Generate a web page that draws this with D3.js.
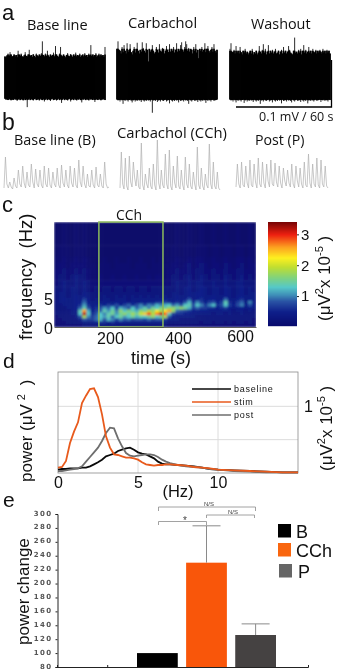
<!DOCTYPE html>
<html>
<head>
<meta charset="utf-8">
<script src="https://cdn.jsdelivr.net/npm/d3@7"></script>
<style>
    html, body { margin: 0; padding: 0; background: #fff; }
    svg { display: block; filter: blur(0.35px); }
    text { fill: #111; font-family: "Liberation Sans", sans-serif; }
    .soft { font-family: "Open Sans", sans-serif; }
</style>
</head>
<body>
<script>
// a: raw trace envelopes, microvolts, one value per sample
const rawBaseTop = [46,44,48,52,47,55,50,45,47,50,46,49,44,58,50,47,52,46,45,48,55,47,46,50,60,47,49,45,51,47,44,52,48,46,50,47,53,78,49,46,52,47,58,48,45,50,47,49,54,46,68,50,47,45,52,66,48,46,50,47,44,49,53,47,46,51,48,45,50,47,54,46,49,47,52,45,48,50,46,53,47,49,45,52,48,70,47,50,46,49,53,45,48,52,46,50,47,49,45,66];
const rawBaseLow = [-44,-46,-45,-47,-44,-46,-48,-45,-47,-44,-46,-45,-49,-46,-44,-47,-45,-46,-48,-44,-47,-45,-62,-46,-44,-47,-45,-46,-48,-45,-44,-47,-46,-45,-48,-44,-46,-47,-45,-50,-46,-44,-47,-45,-46,-49,-45,-44,-47,-46,-45,-48,-46,-44,-47,-45,-53,-46,-44,-47,-45,-46,-48,-45,-44,-50,-46,-45,-47,-44,-46,-48,-45,-46,-44,-47,-52,-45,-46,-44,-47,-45,-46,-48,-44,-46,-45,-47,-44,-51,-46,-45,-47,-44,-46,-48,-45,-46,-44,-47];
const rawCchTop = [62,78,60,58,52,66,55,70,58,52,74,56,60,72,55,50,58,66,54,62,75,58,52,60,56,76,64,58,54,74,60,35,62,56,60,70,58,52,55,66,60,54,72,58,56,64,62,52,58,68,60,55,72,56,62,58,66,54,60,74,56,62,58,70,76,60,56,66,78,72,58,64,56,62,60,52,66,58,72,54,60,42,62,58,66,56,60,74,55,62,68,58,54,60,66,56,72,58,54,60];
const rawCchLow = [-46,-48,-47,-50,-46,-48,-55,-47,-49,-46,-48,-50,-47,-46,-49,-52,-48,-46,-50,-47,-49,-46,-48,-47,-51,-46,-48,-50,-47,-49,-46,-48,-47,-50,-46,-74,-48,-47,-49,-46,-51,-48,-47,-50,-46,-48,-49,-47,-46,-50,-48,-47,-54,-46,-48,-50,-47,-49,-46,-48,-47,-52,-46,-49,-48,-47,-50,-46,-48,-47,-49,-55,-46,-48,-50,-47,-46,-49,-48,-47,-51,-46,-48,-50,-47,-49,-46,-48,-53,-47,-49,-46,-48,-50,-47,-46,-49,-48,-47,-46];
const rawWashTop = [62,74,56,55,60,52,68,54,58,52,66,55,50,58,54,62,52,56,50,54,58,52,62,50,55,52,58,50,54,68,56,52,60,72,54,62,50,56,70,52,58,54,60,52,56,62,52,54,58,50,56,60,52,66,54,58,52,56,68,60,54,52,50,58,86,54,56,52,60,54,62,50,58,70,54,60,52,56,66,54,58,52,62,56,54,60,52,58,54,60,56,52,62,54,58,52,60,54,58,52];
const rawWashLow = [-46,-48,-47,-50,-46,-48,-52,-47,-49,-46,-48,-50,-47,-46,-53,-48,-46,-50,-47,-49,-46,-48,-47,-51,-46,-48,-50,-47,-49,-46,-55,-48,-47,-50,-46,-48,-49,-47,-46,-50,-48,-47,-52,-46,-48,-50,-47,-49,-46,-48,-47,-54,-46,-49,-48,-47,-50,-46,-48,-47,-49,-52,-46,-48,-50,-47,-46,-49,-48,-47,-51,-46,-48,-50,-47,-49,-46,-54,-48,-47,-49,-46,-48,-50,-47,-46,-49,-48,-47,-46,-51,-47,-48,-46,-49,-47,-48,-50,-46,-47];

// b: filtered traces, arbitrary units
const lfpBase = [2,33,6,2,8,3,1,12,4,2,20,6,3,24,7,2,18,5,3,26,8,2,21,6,3,20,5,2,24,6,3,22,5,2,18,6,3,22,5,2,25,7,3,20,5,2,24,7,3,22,5,2,30,8,3,24,6,2,16,4,3,20,5,2,23,5,3,16,4,2,28,6,2,3];
const lfpCch = [4,40,8,3,34,6,2,36,10,5,30,14,6,22,5,3,49,7,2,18,8,4,24,6,3,28,7,2,52,9,3,22,7,4,38,8,3,42,6,2,26,9,4,36,6,3,22,7,2,35,8,4,28,6,3,20,8,2,45,7,3,24,6,2,18,7,4,48,8,3,30,6,3,20,4,2];
const lfpPost = [3,26,6,2,28,5,3,24,7,2,30,5,3,26,8,2,32,6,3,28,7,2,26,9,3,30,6,4,27,8,3,24,7,2,22,9,4,20,7,3,26,6,2,24,9,3,22,6,2,28,5,3,36,7,2,26,6,3,32,5,2,30,6,3,24,4,2];

// c: spectrogram power in tenths of 10^-5, top row first, 50 time bins per row
const specEdges = [18,14,12,11,10,9,8,7,6,5.5,5,4.5,4,3.5,3,2.5,2,1.5,1,0.5,0];
const specPower = [
    [0,0,1,0,0,1,0,1,0,0,0,0,0,0,0,0,0,0,0,0,0,0,0,0,0,0,0,0,0,0,1,0,0,1,0,0,1,0,0,1,0,0,1,0,0,1,0,0,1,0],
    [0,1,1,1,0,1,1,1,0,0,0,0,0,0,0,0,0,0,0,0,0,0,0,0,0,0,0,0,0,1,1,0,1,1,0,1,1,1,0,1,1,0,1,1,0,1,1,0,1,1],
    [1,1,2,1,1,2,1,2,1,0,0,0,1,0,0,1,0,0,1,0,0,1,0,0,1,0,1,0,1,1,2,1,1,2,1,2,2,1,1,2,1,1,2,1,1,2,2,1,2,1],
    [1,2,2,1,2,2,2,2,1,1,0,1,1,1,0,1,1,1,1,0,1,1,1,0,1,1,1,1,1,2,2,1,2,3,1,2,3,2,1,2,2,1,3,2,1,2,3,1,2,2],
    [2,2,3,2,2,3,2,3,2,1,1,1,1,1,1,1,1,1,1,1,1,1,1,1,1,1,1,1,2,2,3,2,2,3,2,3,3,2,2,3,2,2,3,2,2,3,3,2,2,2],
    [2,3,3,2,3,4,3,3,2,1,1,2,1,1,2,1,1,2,1,1,2,1,1,2,1,2,2,1,2,3,3,2,3,4,2,3,4,3,2,3,3,2,4,3,2,3,4,2,3,2],
    [2,3,4,3,3,4,3,4,3,2,2,2,2,2,2,2,2,2,2,2,2,2,2,2,2,2,2,2,2,3,4,3,3,4,3,4,4,3,3,4,3,3,4,3,3,4,4,3,3,3],
    [3,3,4,3,4,4,3,4,3,2,3,2,3,3,2,3,3,2,3,3,2,3,3,2,3,3,3,3,3,3,4,3,4,5,3,4,5,4,3,4,4,3,5,4,3,4,5,3,4,3],
    [3,4,4,3,4,4,3,5,4,3,3,3,3,3,3,3,3,3,3,3,3,3,3,3,3,3,3,3,3,4,4,3,4,5,4,5,5,4,3,4,4,3,5,4,3,4,5,3,4,4],
    [3,4,4,3,4,5,4,5,4,3,3,3,4,3,3,4,3,4,3,4,3,4,3,4,3,4,3,4,3,4,5,4,4,5,4,5,5,4,4,5,4,4,5,4,3,5,5,4,4,4],
    [3,4,5,4,4,5,4,7,5,3,4,3,4,4,3,4,4,4,3,4,4,4,4,4,4,4,4,5,4,4,5,4,5,8,4,5,6,4,5,5,4,4,9,4,4,5,6,4,5,4],
    [3,4,4,4,4,5,5,9,5,4,4,4,5,4,4,5,4,5,4,5,4,5,5,5,5,6,6,7,6,5,6,5,8,12,6,10,7,5,7,8,5,7,14,6,4,7,9,4,10,4],
    [3,3,4,4,4,5,6,11,6,4,5,6,5,7,6,8,5,7,9,6,8,10,7,10,9,12,10,12,13,9,11,8,13,14,8,13,10,7,10,13,6,8,13,7,5,8,10,5,8,5],
    [3,3,3,4,4,5,9,14,8,5,6,8,11,9,13,7,12,10,8,13,9,11,14,10,15,13,16,15,17,17,15,17,15,12,7,9,7,7,6,6,5,6,7,5,4,5,5,4,5,4],
    [3,3,3,3,4,5,14,26,12,5,7,9,14,11,15,10,17,13,16,14,12,17,15,19,17,22,18,23,26,17,9,8,7,6,5,5,5,5,4,4,4,4,4,4,3,4,4,3,4,3],
    [3,3,3,3,4,4,13,32,13,6,8,13,10,14,15,11,15,17,14,18,15,20,24,29,19,27,32,28,14,7,6,6,5,5,4,4,4,4,4,3,4,4,3,4,3,3,4,3,3,3],
    [2,3,3,3,3,4,8,18,10,7,9,13,11,14,9,13,15,11,13,15,12,14,13,15,17,13,15,18,8,5,4,4,4,4,4,3,3,3,3,3,3,3,3,3,3,3,3,3,3,3],
    [2,2,3,3,3,3,5,8,7,7,9,12,8,12,10,7,10,8,9,7,8,8,7,9,7,8,8,6,4,4,4,3,3,3,3,3,3,3,3,3,3,3,3,3,3,3,3,3,3,2],
    [2,2,2,3,3,3,3,4,4,4,5,6,6,5,6,5,5,5,4,4,4,4,4,4,4,4,4,4,3,3,3,3,3,3,3,3,2,3,3,2,3,3,2,3,2,3,3,2,3,2],
    [1,2,2,2,2,2,2,3,3,3,3,3,3,3,3,3,3,3,3,3,3,3,3,3,3,3,3,3,2,2,2,2,2,2,2,2,2,2,2,2,2,2,2,2,2,2,2,2,2,2]
];
const specColorStops = [0, 0.5, 0.85, 1.05, 1.3, 1.6, 1.95, 2.25, 2.6, 3.0, 3.4];
const specColors = ["#08086a","#0e1f8a","#2a55a5","#3f8fb8","#55c8c8","#7fd27f","#c0de30","#fdf020","#fca020","#ee2010","#7a0505"];
const timeTicks = [200, 400, 600];
const freqTicks = [0, 5];
const cchWindow = [166, 363];
const colorTicks = [1, 2, 3];

// d: power spectra (x 10^-5) on a shared frequency axis
const specHz = [0,0.25,0.5,0.75,1,1.25,1.5,1.75,2,2.25,2.5,2.75,3,3.25,3.5,3.75,4,4.25,4.5,4.75,5,5.25,5.5,5.75,6,6.25,6.5,6.75,7,7.5,8,8.5,9,9.5,10,11,12,13,14,15];
const baselinePower = [0.05,0.06,0.06,0.07,0.07,0.07,0.08,0.08,0.10,0.13,0.16,0.20,0.25,0.27,0.29,0.33,0.35,0.37,0.38,0.35,0.31,0.29,0.28,0.25,0.22,0.17,0.14,0.13,0.13,0.12,0.11,0.10,0.08,0.06,0.05,0.04,0.03,0.02,0.01,0.01];
const stimPower = [0.08,0.09,0.18,0.45,0.62,0.76,1.05,1.16,1.26,1.27,1.14,0.88,0.55,0.38,0.28,0.27,0.25,0.23,0.23,0.22,0.20,0.16,0.13,0.12,0.11,0.12,0.12,0.13,0.13,0.12,0.11,0.09,0.08,0.07,0.05,0.04,0.03,0.02,0.01,0.01];
const postPower = [0.03,0.03,0.04,0.05,0.06,0.07,0.10,0.17,0.24,0.31,0.38,0.48,0.60,0.68,0.67,0.52,0.40,0.30,0.26,0.25,0.26,0.27,0.28,0.28,0.27,0.24,0.20,0.17,0.15,0.12,0.10,0.09,0.08,0.06,0.05,0.03,0.02,0.01,0.01,0.01];
const spectrumNames = ["baseline", "stim", "post"];
const spectrumColors = ["#0a0a0a", "#e85a1c", "#6e6e6e"];

// e: bars
const barCategories = ["B", "CCh", "P"];
const barValues = [100, 230, 126];
const barErrors = [0, 53, 16];
const barColors = ["#000000", "#f9560a", "#454242"];
const legendColors = ["#000000", "#f9660f", "#666666"];
const powerTicks = d3.range(80, 301, 20);

const svg = d3.select("body").append("svg").attr("width", 350).attr("height", 670);

var addText = function(x, y, str, size, opts){
    opts = opts || {};
    var t = svg.append("text")
        .attr("x", x)
        .attr("y", y)
        .style("font-size", size + "px")
        .attr("text-anchor", opts.anchor || "start")
        .text(str);
    if (opts.soft) t.classed("soft", true);
    if (opts.rotate) t.attr("transform", "rotate(-90," + x + "," + y + ")");
    if (opts.spacing) t.style("letter-spacing", opts.spacing + "px");
    return t;
}

var createRawTrace = function(x0, x1, top, low, bulk){
    var x = d3.scaleLinear().domain([0, top.length - 1]).range([x0, x1]);
    var y = d3.scaleLinear().domain([-100, 100]).range([125, 31]);
    // thin spikes first, the solid band over them
    svg.append("g").selectAll("line")
        .data(top)
        .join("line")
        .attr("x1", (d, i) => x(i))
        .attr("x2", (d, i) => x(i))
        .attr("y1", d => y(d))
        .attr("y2", (d, i) => y(low[i]))
        .attr("stroke", "#2a2a2a")
        .attr("stroke-width", 1);
    svg.append("g").selectAll("line")
        .data(top)
        .join("line")
        .attr("x1", (d, i) => x(i))
        .attr("x2", (d, i) => x(i))
        .attr("y1", d => y(Math.min(d, bulk)))
        .attr("y2", (d, i) => y(Math.max(low[i], -47)))
        .attr("stroke", "#000")
        .attr("stroke-width", 1.7);
}

var createPanelA = function(){
    addText(2, 20, "a", 22);
    addText(27, 30, "Base line", 14.5, {soft: true});
    addText(128, 28, "Carbachol", 14.7, {soft: true});
    addText(251, 29, "Washout", 14.4, {soft: true});
    createRawTrace(5, 105, rawBaseTop, rawBaseLow, 50);
    createRawTrace(117, 217, rawCchTop, rawCchLow, 62);
    createRawTrace(230, 330, rawWashTop, rawWashLow, 58);
    svg.append("path")
        .attr("d", "M331.5,60V107H236")
        .attr("fill", "none")
        .attr("stroke", "#000")
        .attr("stroke-width", 1.3);
    addText(259, 121, "0.1 mV / 60 s", 12.5, {soft: true});
}

var createLfpTrace = function(x0, x1, yBase, values){
    var x = d3.scaleLinear().domain([0, values.length - 1]).range([x0, x1]);
    var y = d3.scaleLinear().domain([0, 60]).range([yBase, yBase - 60]);
    var line = d3.line().x((d, i) => x(i)).y(d => y(d));
    svg.append("path")
        .attr("d", line(values))
        .attr("fill", "none")
        .attr("stroke", "#b0b0b0")
        .attr("stroke-width", 0.7);
}

var createPanelB = function(){
    addText(2, 130, "b", 23);
    addText(14, 145, "Base line (B)", 14.4, {soft: true});
    addText(117, 138, "Carbachol (CCh)", 14.8, {soft: true});
    addText(255, 145, "Post (P)", 14.2, {soft: true});
    createLfpTrace(4, 109, 190, lfpBase);
    createLfpTrace(120, 220, 192, lfpCch);
    createLfpTrace(236, 328, 190, lfpPost);
}

var createPanelC = function(){
    var left = 54, right = 256, top = 222, bottom = 327;
    var color = d3.scaleLinear().domain(specColorStops).range(specColors).clamp(true);
    var band = d3.scaleBand().domain(d3.range(specPower[0].length)).range([left, right]);
    var time = d3.scaleLinear().domain([28, 649]).range([left, right]);
    var freq = d3.scaleLinear().domain([0, 18]).range([bottom, top]);

    var defs = svg.append("defs");
    defs.append("filter").attr("id", "specBlur")
        .attr("x", 0).attr("y", 0).attr("width", 1).attr("height", 1)
        .append("feGaussianBlur").attr("stdDeviation", 0.95).attr("edgeMode", "duplicate");
    defs.append("clipPath").attr("id", "specClip").append("rect")
        .attr("x", left).attr("y", top).attr("width", right - left).attr("height", bottom - top);

    var cells = svg.append("g").attr("clip-path", "url(#specClip)")
        .append("g").attr("filter", "url(#specBlur)");
    specPower.forEach(function(row, r){
        cells.selectAll(null)
            .data(row)
            .join("rect")
            .attr("x", (d, i) => band(i))
            .attr("y", freq(specEdges[r]))
            .attr("width", band.bandwidth() + 0.5)
            .attr("height", freq(specEdges[r + 1]) - freq(specEdges[r]) + 0.5)
            .attr("fill", d => color(d / 10));
    });

    svg.append("rect")
        .attr("x", time(cchWindow[0]))
        .attr("y", top)
        .attr("width", time(cchWindow[1]) - time(cchWindow[0]))
        .attr("height", bottom - top)
        .attr("fill", "none")
        .attr("stroke", "#8cbb5c")
        .attr("stroke-width", 1.5);

    var xAxis = svg.append("g").attr("transform", "translate(0," + bottom + ")")
        .call(d3.axisBottom(time).tickValues(timeTicks).tickSize(0));
    xAxis.select(".domain").attr("stroke", "#333").attr("stroke-width", 0.8);
    xAxis.selectAll("text").style("font-size", "16px")
        .attr("dy", 0).attr("y", (d) => d === 600 ? 15 : 17)
        .attr("x", (d) => d === 400 ? 3 : 0);

    var yAxis = svg.append("g").attr("transform", "translate(" + left + ",0)")
        .call(d3.axisLeft(freq).tickValues(freqTicks).tickSize(0));
    yAxis.select(".domain").remove();
    yAxis.selectAll("text").style("font-size", "16px").attr("x", -1).attr("dy", "0.4em");

    addText(129, 220, "CCh", 14, {anchor: "middle", soft: true});
    addText(32, 340, "frequency  (Hz)", 18.5, {rotate: true}).style("white-space", "pre");
    addText(161, 364, "time (s)", 18, {anchor: "middle"});
    addText(2, 212, "c", 22);

    // colour bar
    var barX = 268, barW = 29, barBottom = 326, barTop = 222;
    var colorY = d3.scaleLinear().domain([0.03, 3.4]).range([barBottom, barTop]);
    svg.append("g").selectAll("rect")
        .data(d3.range(barTop, barBottom))
        .join("rect")
        .attr("x", barX)
        .attr("y", d => d)
        .attr("width", barW)
        .attr("height", 1.2)
        .attr("fill", d => color(colorY.invert(d)));
    var cAxis = svg.append("g").attr("transform", "translate(" + (barX + barW) + ",0)")
        .call(d3.axisRight(colorY).tickValues(colorTicks).tickSize(2).tickFormat(d3.format("d")));
    cAxis.select(".domain").remove();
    cAxis.selectAll("line").attr("stroke", "#222");
    cAxis.selectAll("text").style("font-size", "15px").attr("x", 4);

    var unit = addText(330, 321, "", 17, {rotate: true});
    unit.append("tspan").text("(μV");
    unit.append("tspan").attr("dy", -7).style("font-size", "11px").text("2");
    unit.append("tspan").attr("dy", 7).text("x 10");
    unit.append("tspan").attr("dy", -7).style("font-size", "11px").text("-5");
    unit.append("tspan").attr("dy", 7).text(" )");
}

var createPanelD = function(){
    var left = 58, right = 298, top = 372, bottom = 473;
    var x = d3.scaleLinear().domain([0, 15]).range([left, right]);
    var y = d3.scaleLinear().domain([0, 1.515]).range([bottom, top]);

    svg.append("g").selectAll("line")
        .data([5, 10])
        .join("line")
        .attr("x1", d => x(d)).attr("x2", d => x(d))
        .attr("y1", top).attr("y2", bottom)
        .attr("stroke", "#dcdcdc");
    svg.append("g").selectAll("line")
        .data([0.5, 1])
        .join("line")
        .attr("x1", left).attr("x2", right)
        .attr("y1", d => y(d)).attr("y2", d => y(d))
        .attr("stroke", "#dcdcdc");
    svg.append("rect")
        .attr("x", left).attr("y", top)
        .attr("width", right - left).attr("height", bottom - top)
        .attr("fill", "none")
        .attr("stroke", "#8a8a8a")
        .attr("stroke-width", 0.8);

    var line = d3.line().x((d, i) => x(specHz[i])).y(d => y(d));
    [baselinePower, postPower, stimPower].forEach(function(values){
        var name = values === baselinePower ? 0 : values === stimPower ? 1 : 2;
        svg.append("path")
            .attr("d", line(values))
            .attr("fill", "none")
            .attr("stroke", spectrumColors[name])
            .attr("stroke-width", 1.8);
    });

    var xAxis = svg.append("g").attr("transform", "translate(0," + bottom + ")")
        .call(d3.axisBottom(x).tickValues([0, 5, 10]).tickSize(0));
    xAxis.select(".domain").remove();
    xAxis.selectAll("text").style("font-size", "16px").attr("dy", 0).attr("y", 15);

    spectrumNames.forEach(function(name, i){
        var ly = 389 + i * 13;
        svg.append("line")
            .attr("x1", 192).attr("x2", 231)
            .attr("y1", ly).attr("y2", ly)
            .attr("stroke", spectrumColors[i])
            .attr("stroke-width", 1.6);
        addText(234, ly + 3, name, 9, {spacing: 0.75});
    });

    addText(304, 412, "1", 16);
    addText(178, 497, "(Hz)", 16.5, {anchor: "middle"});
    addText(3, 368, "d", 21);

    var power = addText(32, 482, "", 17, {rotate: true});
    power.append("tspan").text("power (μV");
    power.append("tspan").attr("dy", -7).attr("dx", 4).style("font-size", "11px").text("2");
    power.append("tspan").attr("dy", 7).attr("dx", 4).text(" )");

    var unit = addText(332, 471, "", 17, {rotate: true});
    unit.append("tspan").text("(μV");
    unit.append("tspan").attr("dy", -7).style("font-size", "11px").text("2");
    unit.append("tspan").attr("dy", 7).text("x 10");
    unit.append("tspan").attr("dy", -7).style("font-size", "11px").text("-5");
    unit.append("tspan").attr("dy", 7).text(" )");
}

var createBracket = function(x1, x2, yTop, yEnd, label, labelX, labelY, size){
    svg.append("path")
        .attr("d", "M" + x1 + "," + yEnd + "V" + yTop + "H" + x2 + "V" + yEnd)
        .attr("fill", "none")
        .attr("stroke", "#8a8a8a")
        .attr("stroke-width", 0.8);
    addText(labelX, labelY, label, size, {anchor: "middle"}).style("fill", "#444");
}

var createPanelE = function(){
    var y = d3.scaleLinear().domain([80, 300]).range([667, 514]);
    var x = d3.scaleBand().domain(barCategories).range([137, 276]).paddingInner(0.17);
    var axisX = d3.scaleLinear().domain([0, 5]).range([57, 308]);

    svg.append("g").selectAll("rect")
        .data(barValues)
        .join("rect")
        .attr("x", (d, i) => x(barCategories[i]))
        .attr("y", d => y(d))
        .attr("width", x.bandwidth())
        .attr("height", d => y(80) - y(d))
        .attr("fill", (d, i) => barColors[i]);

    var errors = svg.append("g").attr("stroke", "#8a8a8a").attr("stroke-width", 1);
    barValues.forEach(function(v, i){
        if (!barErrors[i]) return;
        var cx = x(barCategories[i]) + x.bandwidth() / 2;
        errors.append("line")
            .attr("x1", cx).attr("x2", cx)
            .attr("y1", y(v)).attr("y2", y(v + barErrors[i]));
        errors.append("line")
            .attr("x1", cx - 14).attr("x2", cx + 14)
            .attr("y1", y(v + barErrors[i])).attr("y2", y(v + barErrors[i]));
    });

    var yAxis = svg.append("g").attr("transform", "translate(57.5,0)")
        .call(d3.axisLeft(y).tickValues(powerTicks).tickSize(2));
    yAxis.select(".domain").attr("stroke", "#222");
    yAxis.selectAll("line").attr("stroke", "#222");
    yAxis.selectAll("text").style("font-family", "'DejaVu Sans'").style("font-size", "7px")
        .style("font-weight", "bold").style("fill", "#555")
        .style("letter-spacing", "1.4px").attr("x", -5).attr("y", -1.2);

    var xAxis = svg.append("g").attr("transform", "translate(0,667)")
        .call(d3.axisBottom(axisX).tickValues([1]).tickFormat("").tickSize(-2));
    xAxis.select(".domain").attr("stroke", "#222");
    xAxis.selectAll("line").attr("stroke", "#222");

    createBracket(158.5, 255.5, 507, 511, "N/S", 209, 506, 6);
    createBracket(206.5, 254.5, 515, 518, "N/S", 233, 513.5, 6);
    createBracket(158.5, 206.5, 521.5, 525, "*", 185, 524, 10);

    barCategories.forEach(function(name, i){
        var ly = [524, 543, 564][i];
        svg.append("rect")
            .attr("x", i === 2 ? 279 : 278).attr("y", ly)
            .attr("width", 13).attr("height", 13.5)
            .attr("fill", legendColors[i]);
        addText(i === 2 ? 298 : 296, ly + 14, name, 18);
    });

    addText(3, 507, "e", 21);
    addText(29, 645, "power change", 17, {rotate: true});
}

createPanelA();
createPanelB();
createPanelC();
createPanelD();
createPanelE();
</script>
</body>
</html>
